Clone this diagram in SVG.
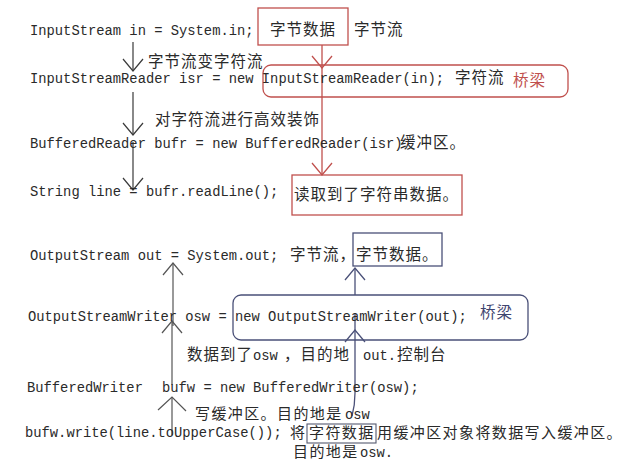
<svg xmlns="http://www.w3.org/2000/svg" xmlns:xlink="http://www.w3.org/1999/xlink" width="637" height="463" viewBox="0 0 637 463">
<style>
.m{font-family:"Liberation Mono",monospace;font-size:13.8px;fill:#2a2a2a}
.c{font-family:"Noto Sans CJK SC","Noto Sans CJK JP",sans-serif;font-size:15.5px;letter-spacing:1px;fill:#2a2a2a}
.s{font-size:15px;letter-spacing:1.4px}
.red{fill:#c0504d}
.navy{fill:#3f4670}
.bk{fill:none;stroke:#3a3a3a;stroke-width:1.2}
.rd{fill:none;stroke:#c0504d;stroke-width:1.3}
.nv{fill:none;stroke:#4a5078;stroke-width:1.3}
</style>
<defs>
<path id="vd" d="M-10,-12 L0,0 L10,-12"/>
<path id="vu" d="M-10,12 L0,0 L10,12"/>
<path id="vu2" d="M-14,13 L0,0 L14,14"/>
</defs>
<rect width="637" height="463" fill="#ffffff"/>

<g id="connectors">
<g class="bk">
<line x1="133" y1="42" x2="133" y2="70"/><use xlink:href="#vd" x="133" y="71"/>
<line x1="133" y1="92" x2="133" y2="135"/><use xlink:href="#vd" x="133" y="135"/>
<line x1="133" y1="142" x2="133" y2="190"/><use xlink:href="#vd" x="133" y="190"/>
</g>
<g class="rd">
<line x1="322" y1="45" x2="322" y2="175"/>
<use xlink:href="#vd" x="322" y="68"/>
<use xlink:href="#vd" x="322" y="175"/>
</g>
<g class="bk" style="stroke:#555">
<line x1="173" y1="263" x2="173" y2="326"/><use xlink:href="#vu" x="173" y="263"/>
<line x1="172" y1="321" x2="172" y2="385"/><use xlink:href="#vu" x="172" y="321"/>
<line x1="172" y1="397" x2="172" y2="435"/><use xlink:href="#vu2" x="172" y="397"/>
</g>
<g class="nv">
<line x1="355" y1="268" x2="355" y2="295"/><use xlink:href="#vu" x="355" y="268"/>
<path d="M355,313 L355,393 Q355,405 352,416"/><use xlink:href="#vu" x="355" y="330"/>
</g>
</g>

<g id="n-inputstream">
<text class="m" x="30" y="35">InputStream in = System.in;</text>
</g>
<g id="n-bytedata-red">
<rect class="rd" x="258" y="8" width="90" height="37"/>
<text class="c" x="270" y="35">字节数据</text>
</g>
<g id="n-bytestream-label">
<text class="c" x="354" y="35">字节流</text>
</g>
<g id="n-label1"><text class="c" x="148" y="67">字节流变字符流</text></g>
<g id="n-isr">
<rect class="rd" x="263" y="65" width="305" height="32" rx="8"/>
<text class="m" x="30" y="83">InputStreamReader isr = new InputStreamReader(in);</text>
<text class="c" x="455" y="83">字符流</text>
<text class="c red" x="513" y="86">桥梁</text>
</g>
<g id="n-label2"><text class="c" x="155" y="125">对字符流进行高效装饰</text></g>
<g id="n-bufr">
<text class="m" x="30" y="148">BufferedReader bufr = new BufferedReader(isr)</text>
<text class="c" x="400" y="148">缓冲区。</text>
</g>
<g id="n-line">
<text class="m" x="30" y="196">String line = bufr.readLine();</text>
</g>
<g id="n-readbox">
<rect class="rd" x="292" y="175" width="170" height="40"/>
<text class="c" x="294" y="200">读取到了字符串数据。</text>
</g>

<g id="n-out">
<text class="m" x="30" y="260">OutputStream out = System.out;</text>
<text class="c" x="290" y="260">字节流，</text>
</g>
<g id="n-bytedata-navy">
<rect class="nv" x="353" y="233" width="89" height="33"/>
<text class="c" x="356" y="260">字节数据。</text>
</g>
<g id="n-osw">
<rect class="nv" x="233" y="295" width="295" height="45" rx="8"/>
<text class="m" x="28" y="321">OutputStreamWriter osw = new OutputStreamWriter(out);</text>
<text class="c navy" x="480" y="318">桥梁</text>
</g>
<g id="n-label3">
<text class="c" x="187" y="360">数据到了</text>
<text class="m" x="253" y="360">osw</text>
<text class="c" x="284" y="360">，目的地</text>
<text class="m" x="363" y="360">out.</text>
<text class="c" x="397" y="360">控制台</text>
</g>
<g id="n-bufw">
<text class="m" x="27" y="392">BufferedWriter</text>
<text class="m" x="162" y="392">bufw = new BufferedWriter(osw);</text>
</g>
<g id="n-label4">
<text class="c s" x="195" y="419">写缓冲区。目的地是</text>
<text class="m" x="345" y="419">osw</text>
</g>
<g id="n-write">
<text class="m" x="25" y="437">bufw.write(line.toUpperCase());</text>
<text class="c s" x="290" y="438">将</text>
<rect class="nv" x="307" y="424" width="69" height="19" style="stroke:#555a70;stroke-width:1.1"/>
<text class="c s" x="309" y="438">字符数据</text>
<text class="c s" x="377" y="438">用缓冲区对象将数据写入缓冲区。</text>
<text class="c s" x="293" y="457">目的地是</text>
<text class="m" x="360" y="457">osw.</text>
</g>
</svg>
